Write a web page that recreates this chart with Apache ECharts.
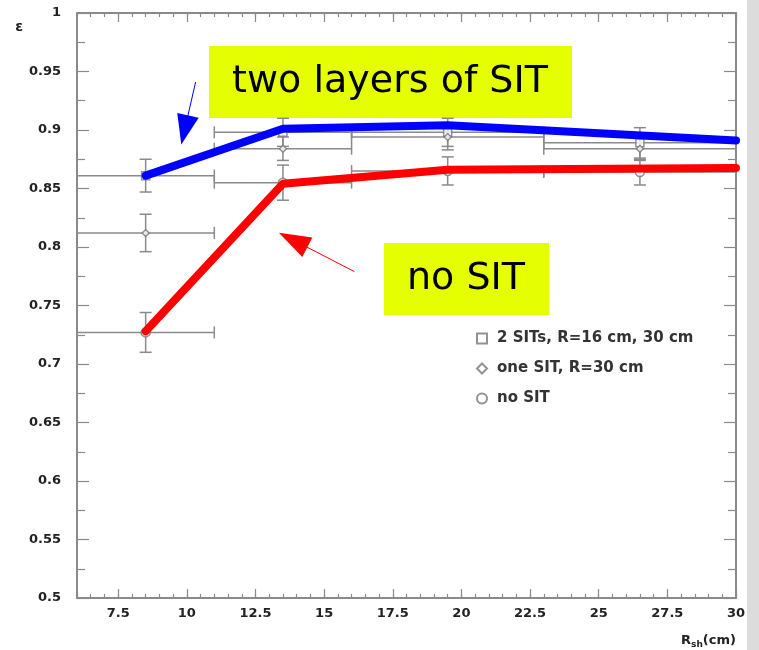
<!DOCTYPE html>
<html>
<head>
<meta charset="utf-8">
<script src="https://cdn.jsdelivr.net/npm/echarts@6/dist/echarts.min.js"></script>
<style>
  html, body { margin: 0; padding: 0; background: #fff; }
  #main { width: 759px; height: 650px; }
</style>
</head>
<body>
<div id="main"></div>
<script>
// bins in R (cm)
const binCenters = [8.5, 13.5, 19.5, 26.5]
const binLow = [6, 11, 16, 23]
const binHigh = [11, 16, 23, 30]

// efficiencies and errors per configuration
const twoSitEff = [0.861, 0.898, 0.898, 0.889]
const twoSitErr = [0.014, 0.012, 0.012, 0.013]
const oneSitEff = [0.812, 0.884, 0.894, 0.884]
const oneSitErr = [0.016, 0.010, 0.011, 0.010]
const noSitEff = [0.727, 0.855, 0.865, 0.864]
const noSitErr = [0.017, 0.015, 0.012, 0.011]

// hand drawn guide lines
const blueX = [8.5, 13.5, 19.5, 30]
const blueY = [0.861, 0.901, 0.904, 0.891]
const redX = [8.5, 13.5, 19.5, 30]
const redY = [0.728, 0.854, 0.866, 0.8675]

// arrows: [from, to]
const blueArrow = [[10.32, 0.941], [9.92, 0.9]]
const redArrow = [[16.1, 0.779], [13.87, 0.806]]

const xTickLabels = [7.5, 10, 12.5, 15, 17.5, 20, 22.5, 25, 27.5, 30]
const seriesNames = ['2 SITs, R=16 cm, 30 cm', 'one SIT, R=30 cm', 'no SIT']

const gray = '#8a8a8a'
const labelFont = { fontFamily: 'DejaVu Sans', fontWeight: 'bold', fontSize: 13, color: '#222' }

function errData(eff, err) {
  return binCenters.map((x, i) => [x, eff[i], binLow[i], binHigh[i], eff[i] - err[i], eff[i] + err[i]])
}

function renderErr(params, api) {
  const c = api.coord([api.value(0), api.value(1)])
  const l = api.coord([api.value(2), api.value(1)])
  const r = api.coord([api.value(3), api.value(1)])
  const lo = api.coord([api.value(0), api.value(4)])
  const hi = api.coord([api.value(0), api.value(5)])
  const st = { stroke: gray, lineWidth: 1.5, fill: null }
  const cap = 6
  return {
    type: 'group',
    children: [
      { type: 'line', shape: { x1: l[0], y1: c[1], x2: r[0], y2: c[1] }, style: st },
      { type: 'line', shape: { x1: l[0], y1: c[1] - cap, x2: l[0], y2: c[1] + cap }, style: st },
      { type: 'line', shape: { x1: r[0], y1: c[1] - cap, x2: r[0], y2: c[1] + cap }, style: st },
      { type: 'line', shape: { x1: c[0], y1: lo[1], x2: c[0], y2: hi[1] }, style: st },
      { type: 'line', shape: { x1: c[0] - cap, y1: lo[1], x2: c[0] + cap, y2: lo[1] }, style: st },
      { type: 'line', shape: { x1: c[0] - cap, y1: hi[1], x2: c[0] + cap, y2: hi[1] }, style: st }
    ]
  }
}

function xAxisMinor(pos, withLabels) {
  return {
    type: 'value', position: pos, min: 6, max: 30, interval: 0.5,
    axisLine: { show: true, onZero: false, lineStyle: { color: gray, width: 2 } },
    axisTick: { show: true, inside: true, length: 4, lineStyle: { color: gray, width: 1.2 } },
    axisLabel: withLabels
      ? Object.assign({ show: true, customValues: xTickLabels, margin: 9, formatter: v => String(v) }, labelFont)
      : { show: false },
    splitLine: { show: false }
  }
}

function xAxisMajor(pos) {
  return {
    type: 'value', position: pos, min: 6, max: 30,
    axisLine: { show: false },
    axisTick: { show: true, inside: true, length: 9, customValues: xTickLabels, lineStyle: { color: gray, width: 1.2 } },
    axisLabel: { show: false },
    splitLine: { show: false }
  }
}

function yAxisDef(pos, withLabels) {
  return {
    type: 'value', position: pos, min: 0.5, max: 1, interval: 0.05,
    axisLine: { show: true, onZero: false, lineStyle: { color: gray, width: 2 } },
    axisTick: { show: true, inside: true, length: 12, lineStyle: { color: gray, width: 1.2 } },
    minorTick: { show: true, splitNumber: 2, length: 8, lineStyle: { color: gray, width: 1.2 } },
    axisLabel: withLabels
      ? Object.assign({ show: true, margin: 16, formatter: v => String(+v.toFixed(2)) }, labelFont)
      : { show: false },
    splitLine: { show: false },
    name: withLabels ? 'ε' : '',
    nameLocation: 'end',
    nameGap: -14,
    nameTextStyle: { fontFamily: 'DejaVu Sans', fontWeight: 'bold', fontSize: 14, color: '#222', align: 'right', verticalAlign: 'middle', padding: [0, 54, 0, 0] }
  }
}

const markerStyle = { color: '#fff', borderColor: '#777', borderWidth: 1.5 }

const myChart = echarts.init(document.getElementById('main'))
const option = {
  animation: false,
  backgroundColor: '#fff',
  grid: { left: 77, right: 23, top: 13, bottom: 52 },
  legend: {
    data: seriesNames,
    orient: 'vertical',
    left: 471,
    top: 326,
    itemGap: 15,
    itemWidth: 10,
    itemHeight: 10,
    textStyle: { fontFamily: 'DejaVu Sans', fontWeight: 'bold', fontSize: 15, color: '#333', padding: [0, 0, 0, 5] }
  },
  xAxis: [
    Object.assign(xAxisMinor('bottom', true), {
      name: 'R{s|sh}(cm)',
      nameLocation: 'end',
      nameGap: 0,
      nameTextStyle: {
        fontFamily: 'DejaVu Sans', fontWeight: 'bold', fontSize: 13, color: '#222',
        align: 'right', verticalAlign: 'top', padding: [34, 0, 0, 0],
        rich: { s: { fontSize: 9, fontWeight: 'bold', padding: [8, 0, 0, 0] } }
      }
    }),
    xAxisMajor('bottom'),
    xAxisMinor('top', false),
    xAxisMajor('top')
  ],
  yAxis: [yAxisDef('left', true), yAxisDef('right', false)],
  graphic: [
    { type: 'rect', right: 0, top: 0, shape: { width: 12, height: 650 }, style: { fill: '#dcdcdc' } },
    {
      type: 'group', left: 209, top: 46,
      children: [
        { type: 'rect', shape: { x: 0, y: 0, width: 363, height: 72 }, style: { fill: '#e5ff00' } },
        { type: 'text', x: 181, y: 36, style: { text: 'two layers of SIT', font: '38px "DejaVu Sans"', fill: '#000', align: 'center', verticalAlign: 'middle' } }
      ]
    },
    {
      type: 'group', left: 384, top: 243,
      children: [
        { type: 'rect', shape: { x: 0, y: 0, width: 165, height: 72 }, style: { fill: '#e5ff00' } },
        { type: 'text', x: 82, y: 36, style: { text: 'no SIT', font: '38px "DejaVu Sans"', fill: '#000', align: 'center', verticalAlign: 'middle' } }
      ]
    }
  ],
  series: [
    { type: 'custom', name: 'err1', renderItem: renderErr, data: errData(twoSitEff, twoSitErr), encode: { x: [0, 2, 3], y: [1, 4, 5] }, z: 1, silent: true },
    { type: 'custom', name: 'err2', renderItem: renderErr, data: errData(oneSitEff, oneSitErr), encode: { x: [0, 2, 3], y: [1, 4, 5] }, z: 1, silent: true },
    { type: 'custom', name: 'err3', renderItem: renderErr, data: errData(noSitEff, noSitErr), encode: { x: [0, 2, 3], y: [1, 4, 5] }, z: 1, silent: true },
    { type: 'scatter', name: seriesNames[0], symbol: 'rect', symbolSize: 8, itemStyle: markerStyle, data: binCenters.map((x, i) => [x, twoSitEff[i]]), z: 2 },
    { type: 'scatter', name: seriesNames[1], symbol: 'diamond', symbolSize: 7, itemStyle: markerStyle, data: binCenters.map((x, i) => [x, oneSitEff[i]]), z: 2 },
    { type: 'scatter', name: seriesNames[2], symbol: 'circle', symbolSize: 9, itemStyle: markerStyle, data: binCenters.map((x, i) => [x, noSitEff[i]]), z: 2 },
    {
      type: 'line', name: 'blue', data: blueX.map((x, i) => [x, blueY[i]]), symbol: 'none', z: 5,
      lineStyle: { color: '#0000ff', width: 8, cap: 'round', join: 'round' },
      markLine: {
        silent: true, symbol: ['none', 'triangle'], symbolSize: [22, 30], label: { show: false },
        lineStyle: { color: '#0000ff', width: 1, type: 'solid' },
        data: [[{ coord: blueArrow[0] }, { coord: blueArrow[1] }]]
      }
    },
    {
      type: 'line', name: 'red', data: redX.map((x, i) => [x, redY[i]]), symbol: 'none', z: 5,
      lineStyle: { color: '#ff0000', width: 8, cap: 'round', join: 'round' },
      markLine: {
        silent: true, symbol: ['none', 'triangle'], symbolSize: [22, 32], label: { show: false },
        lineStyle: { color: '#ff0000', width: 1, type: 'solid' },
        data: [[{ coord: redArrow[0] }, { coord: redArrow[1] }]]
      }
    }
  ]
}
myChart.setOption(option)
</script>
</body>
</html>
